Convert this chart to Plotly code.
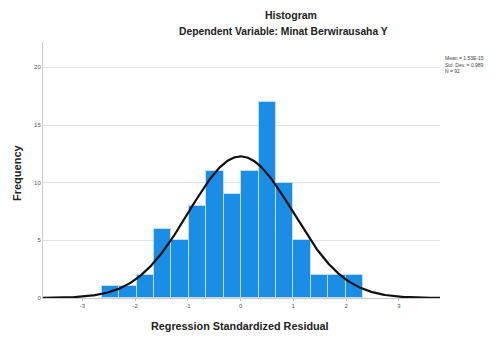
import numpy as np
import plotly.graph_objects as go

# ---- data ----
bin_counts = [1, 1, 2, 6, 5, 8, 11, 9, 11, 17, 10, 5, 2, 2, 2]
bin_start = -2.638
bin_width = 0.3308
mean_val = 0.0
std_val = 0.989
n_obs = 92
x_ticks = [-3, -2, -1, 0, 1, 2, 3]
y_ticks = [0, 5, 10, 15, 20]
stats_text = ["Mean = 1.53E-15", "Std. Dev. = 0.989", "N = 92"]

centers = [bin_start + bin_width * (i + 0.5) for i in range(len(bin_counts))]

# fitted normal curve
xs = np.linspace(-3.75, 3.78, 400)
ys = n_obs * bin_width / (std_val * np.sqrt(2 * np.pi)) * np.exp(-0.5 * ((xs - mean_val) / std_val) ** 2)

FONT = "Liberation Sans, Arial, sans-serif"

fig = go.Figure()
fig.add_trace(go.Bar(
    x=centers, y=bin_counts, width=bin_width,
    marker=dict(color="#1a8de6", line=dict(color="rgba(200,225,250,0.9)", width=1)),
    hoverinfo="skip",
))
fig.add_trace(go.Scatter(
    x=xs, y=ys, mode="lines",
    line=dict(color="#111111", width=2.2),
    hoverinfo="skip",
))

# page body has an 8px offset, so margins are shifted to compensate
fig.update_layout(
    width=496, height=338,
    margin=dict(l=35, r=64, t=34, b=48),
    paper_bgcolor="white", plot_bgcolor="white",
    showlegend=False,
    bargap=0,
    font=dict(family=FONT, size=6, color="#555555"),
)
fig.update_xaxes(
    range=[-3.75, 3.78], tickvals=x_ticks, ticktext=[str(v) for v in x_ticks],
    showgrid=False, zeroline=False,
    showline=True, linecolor="#cccccc", linewidth=1,
    ticks="outside", ticklen=2, tickcolor="#bbbbbb",
    tickfont=dict(size=6, color="#555555"),
)
fig.update_yaxes(
    range=[0, 22.2], tickvals=y_ticks,
    showgrid=True, gridcolor="#e3e3e3", gridwidth=1,
    zeroline=False,
    showline=True, linecolor="#cccccc", linewidth=1,
    ticks="", tickfont=dict(size=6, color="#555555"),
)

# title placed against the top edge of the figure
fig.add_annotation(
    text="<b>Histogram</b>", xref="paper", yref="paper",
    x=(291 - 43) / 397, y=(298 - 8) / 256,
    xanchor="center", yanchor="top", showarrow=False, borderpad=0,
    font=dict(family=FONT, size=10.5, color="#222222"),
)
anns = [
    dict(text="<b>Dependent Variable: Minat Berwirausaha Y</b>", x=283, y=31, size=10.3),
    dict(text="<b>Regression Standardized Residual</b>", x=240, y=326, size=10.8),
]
for a in anns:
    fig.add_annotation(
        text=a["text"], xref="paper", yref="paper",
        x=(a["x"] - 43) / 397, y=(298 - a["y"]) / 256,
        xanchor="center", yanchor="middle", showarrow=False,
        font=dict(family=FONT, size=a["size"], color="#222222"),
    )
fig.add_annotation(
    text="<b>Frequency</b>", xref="paper", yref="paper",
    x=(17 - 43) / 397, y=(298 - 173) / 256, textangle=-90,
    xanchor="center", yanchor="middle", showarrow=False,
    font=dict(family=FONT, size=11, color="#222222"),
)
for i, t in enumerate(stats_text):
    fig.add_annotation(
        text=t, xref="paper", yref="paper",
        x=(443 - 43) / 397, y=(298 - (58 + i * 6.5)) / 256,
        xanchor="left", yanchor="middle", showarrow=False,
        font=dict(family=FONT, size=5, color="#444444"),
    )

fig.write_html("out.html")
